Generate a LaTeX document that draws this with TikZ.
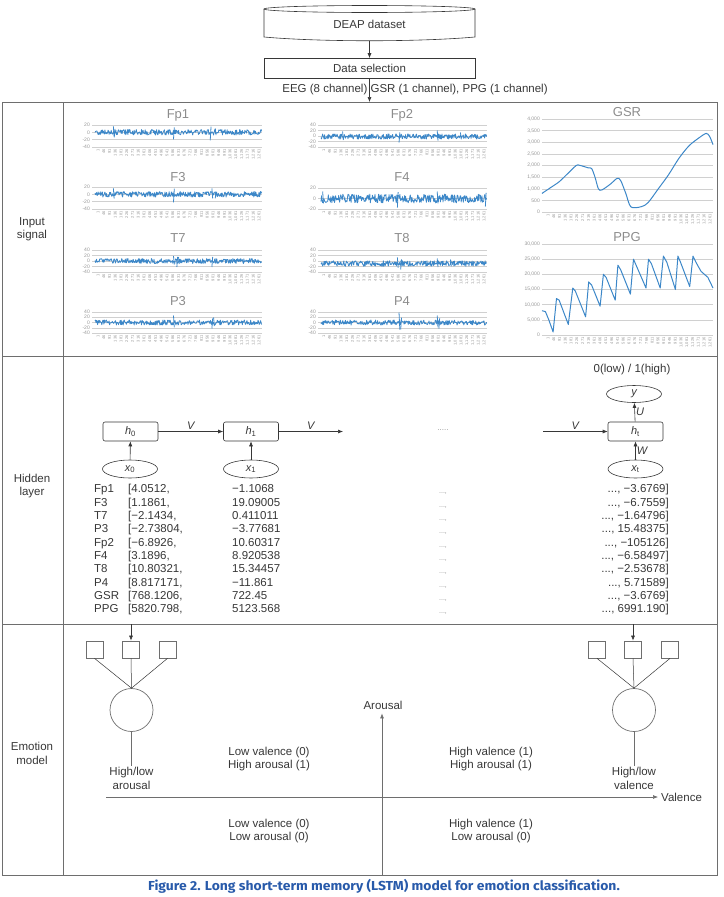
\documentclass[tikz,border=0pt]{standalone}
\usepackage{fontspec}
\setmainfont{Liberation Sans}
\newfontfamily\capfont{Fira Sans}
\usetikzlibrary{shapes.geometric,arrows.meta}
\definecolor{sig}{RGB}{60,135,200}
\definecolor{gridc}{RGB}{208,208,208}
\definecolor{tick}{RGB}{150,150,150}
\definecolor{ttl}{RGB}{140,140,140}
\definecolor{ink}{RGB}{55,55,55}
\definecolor{framec}{RGB}{110,110,110}
\definecolor{capblue}{RGB}{40,90,170}
\tikzset{
  frame/.style={draw=framec, line width=0.8pt},
  arr/.style={-{Latex[length=5pt,width=4pt]}, draw=ink, line width=0.6pt},
  plainline/.style={draw=ink, line width=0.6pt},
  txt/.style={text=ink, inner sep=1pt, font=\fontsize{11.5}{13.3}\selectfont},
  lab/.style={txt, align=center},
  hbox/.style={draw=ink, line width=0.6pt, rounded corners=2pt, minimum width=55pt, minimum height=19pt, inner sep=0pt, text=ink, font=\fontsize{11}{11}\selectfont},
  xell/.style={draw=ink, line width=0.6pt, ellipse, minimum width=55pt, minimum height=18pt, inner sep=0pt, text=ink, font=\fontsize{11}{11}\selectfont},
  wlab/.style={text=ink, inner sep=1pt, font=\fontsize{11}{11}\selectfont\itshape},
  tab/.style={txt, text height=8.3pt, text depth=2.4pt},
  sqbox/.style={draw=framec, line width=0.7pt, minimum size=17pt, inner sep=0pt},
  neuron/.style={draw=framec, line width=0.7pt, circle, minimum size=43pt, inner sep=0pt},
  sigl/.style={draw=sig, line width=0.8pt, line join=round},
  gridl/.style={draw=gridc, line width=0.5pt},
  ylab/.style={anchor=east, inner sep=0.5pt, text=tick, font=\fontsize{5}{5}\selectfont},
  xlab/.style={rotate=90, anchor=east, inner sep=0.3pt, text=tick, font=\fontsize{4}{4}\selectfont},
  ctitle/.style={text=ttl, inner sep=0pt, font=\fontsize{13}{13}\selectfont},
}
\newcommand{\gridset}[4]{% prefix, xl, xr, list y/label
  \foreach \yy/\lab [count=\k] in {#4}{%
    \draw[gridl] (#2,\yy) -- (#3,\yy);
    \node[ylab] (#1-y\k) at (#2-1.5,\yy) {\lab};}}
\newcommand{\xlabset}[4]{% prefix, xl, xr, y
  \foreach \lab [count=\i from 0] in {1,46,91,136,181,226,271,316,361,406,451,496,541,586,631,676,721,766,811,856,901,946,991,{1,036},{1,081},{1,126},{1,171},{1,216},{1,261}}{%
    \node[xlab] (#1-x\i) at ({#2+3+(\i+0.5)*(#3-#2-3)/29},#4) {\lab};}}
\newcommand{\noiseline}[6]{% xl, xr, yc, amp, seed, spikes t/d
  \pgfmathsetseed{#5}
  \draw[sigl] plot[samples=320, domain=0:1, variable=\u] ({#1+3+\u*(#2-#1-3)}, {#3+#4*rand});
  \foreach \s/\d in {#6}{%
    \draw[sigl] ({#1+3+\s*(#2-#1-3)},{#3-\d}) -- ({#1+3.8+\s*(#2-#1-3)},{#3+0.7*\d});}}
\begin{document}
\begin{tikzpicture}[x=1pt,y=-1pt]
\useasboundingbox (0,0) rectangle (723,897);

% ---------- top flow ----------
\node[txt, minimum width=211pt, minimum height=33pt] (deap) at (369.5,24) {DEAP dataset};
\draw[plainline] (369.5,9) ellipse [x radius=105.5, y radius=3.5];
\draw[plainline] (264,9) -- (264,37) .. controls (320,42) and (419,42) .. (475,37) -- (475,9);
\node[txt, draw=ink, line width=0.6pt, minimum width=211pt, minimum height=20pt] (sel) at (369.5,68.5) {Data selection};
\draw[arr] (deap.south) -- (sel.north);
\coordinate (tabtop) at (369.5,102);
\draw[arr] (sel.south) -- (tabtop);
\node[txt] (chan) at (415,90) {EEG (8 channel) GSR (1 channel), PPG (1 channel)};

% ---------- table frame ----------
\draw[frame] (2,102) rectangle (717,875);
\draw[frame] (63,102) -- (63,875);
\draw[frame] (2,356) -- (717,356);
\draw[frame] (2,624) -- (717,624);
\node[lab] (lin) at (32,229) {Input\\signal};
\node[lab] (lhid) at (32,486) {Hidden\\layer};
\node[lab] (lemo) at (32,753.5) {Emotion\\model};

% ---------- EEG charts ----------
\node[ctitle] (tFp1) at (178,115) {Fp1};
\gridset{fp1}{92}{262}{125/20,132.3/0,139.7/-20,147/-40}
\noiseline{92}{262}{132.3}{2.8}{11}{0.11/6,0.115/-5,0.47/-7,0.69/-8,0.72/4}
\xlabset{fp1}{92}{262}{149}

\node[ctitle] (tFp2) at (402,115) {Fp2};
\gridset{fp2}{318}{487}{125/40,130.5/20,136/0,141.5/-20,147/-40}
\noiseline{318}{487}{136.5}{2.6}{12}{0.13/5,0.47/-6,0.7/6,0.84/4}
\xlabset{fp2}{318}{487}{149}

\node[ctitle] (tF3) at (178,177) {F3};
\gridset{f3}{92}{262}{187/20,194.3/0,201.7/-20,209/-40}
\noiseline{92}{262}{194.3}{2.8}{13}{0.11/6,0.47/-8,0.7/6,0.72/-4}
\xlabset{f3}{92}{262}{211}

\node[ctitle] (tF4) at (402,177) {F4};
\gridset{f4}{318}{487}{188/20,198.5/0,209/-20}
\noiseline{318}{487}{198.5}{4.4}{14}{0.01/7,0.46/-9,0.7/7,0.99/-8}
\xlabset{f4}{318}{487}{211}

\node[ctitle] (tT7) at (178,238) {T7};
\gridset{t7}{92}{262}{250/40,255.5/20,261/0,266.5/-20,272/-40}
\noiseline{92}{262}{261}{2.5}{15}{0.47/5,0.49/-6,0.5/4,0.7/-6}
\xlabset{t7}{92}{262}{274}

\node[ctitle] (tT8) at (402,238) {T8};
\gridset{t8}{318}{487}{250/40,255.5/20,261/0,266.5/-20,272/-40}
\noiseline{318}{487}{263.5}{2.8}{16}{0.46/6,0.48/-6,0.7/5,0.78/4}
\xlabset{t8}{318}{487}{274}

\node[ctitle] (tP3) at (178,301) {P3};
\gridset{p3}{92}{262}{312/40,317.25/20,322.5/0,327.75/-20,333/-40}
\noiseline{92}{262}{322.5}{2.5}{17}{0.47/7,0.7/-6,0.71/5}
\xlabset{p3}{92}{262}{335}

\node[ctitle] (tP4) at (402,301) {P4};
\gridset{p4}{318}{487}{312/40,317.25/20,322.5/0,327.75/-20,333/-40}
\noiseline{318}{487}{322.5}{2.5}{18}{0.47/10,0.48/-7,0.7/7,0.71/-6}
\xlabset{p4}{318}{487}{335}

% ---------- GSR ----------
\node[ctitle] (tGSR) at (627,112) {GSR};
\gridset{gsr}{542}{713}{119/{4,000},130.6/{3,500},142.3/{3,000},153.9/{2,500},165.5/{2,000},177.1/{1,500},188.8/{1,000},200.4/500,212/0}
\draw[sigl, line width=1pt] plot[smooth, tension=0.5] coordinates {(542,193.4) (550.6,187.6) (559.1,181.8) (567.7,173.6) (576.2,165.5) (579.6,165.3) (588.2,167.8) (591.6,168.5) (595,177.1) (598.4,188.8) (601.9,189.9) (610.4,184.1) (617.2,178.3) (620.7,180.6) (625.8,193.4) (630.9,206.9) (641.2,206.7) (648,202.7) (658.3,188.8) (668.5,174.8) (678.8,158.5) (689.1,145.7) (699.3,137.6) (706.2,133.4) (709.6,136.4) (713,144.6)};
\xlabset{gsr}{542}{713}{214}

% ---------- PPG ----------
\node[ctitle] (tPPG) at (627,237) {PPG};
\gridset{ppg}{542}{713}{244/{30,000},259.2/{25,000},274.3/{20,000},289.5/{15,000},304.7/{10,000},319.8/{5,000},335/0}
\draw[sigl, line width=1pt] (542,310.7) -- (545.4,311.6) -- (548.8,319.8) -- (553.1,332) -- (556.5,298.6) -- (559.1,300.1) -- (568.3,324.4) -- (572.8,288) -- (575.3,291) -- (585.6,316.8) -- (588.7,281.9) -- (591.6,285) -- (600.1,306.2) -- (603.4,274.3) -- (606.1,277.4) -- (615.2,300.1) -- (617.9,265.2) -- (620.7,269.8) -- (630.4,294.1) -- (633.5,259.2) -- (636.1,265.2) -- (646,288) -- (648.5,259.2) -- (651.4,263.7) -- (660.2,288) -- (663.4,256.1) -- (666.8,262.2) -- (675.4,289.5) -- (677.9,256.1) -- (680.5,262.2) -- (689.7,286.5) -- (693,256.1) -- (695.9,262.2) -- (701,271.3) -- (707.9,277.4) -- (713,288);
\xlabset{ppg}{542}{713}{337}

% ---------- hidden layer ----------
\node[txt] (outlab) at (632,370) {0(low) / 1(high)};
\node[xell, minimum height=17pt] (yy) at (634,394) {\itshape y};
\node[hbox] (h0) at (130.5,431.5) {{\itshape h}\textsubscript{0}};
\node[hbox] (h1) at (251,431.5) {{\itshape h}\textsubscript{1}};
\node[hbox] (ht) at (635.5,431.5) {{\itshape h}\textsubscript{t}};
\node[xell] (x0) at (130,469) {{\itshape x}\textsubscript{0}};
\node[xell] (x1) at (251,469) {{\itshape x}\textsubscript{1}};
\node[xell] (xt) at (635.5,469) {{\itshape x}\textsubscript{t}};
\coordinate (vend) at (343,431.5);
\coordinate (vstart) at (543,431.5);
\node[text=tick, inner sep=0pt, font=\fontsize{8}{8}\selectfont] (dots) at (443,430) {.....};
\draw[arr] (x0) -- (h0);
\draw[arr] (x1) -- (h1);
\draw[arr] (xt) -- node[wlab, right] {W} (ht);
\draw[arr] (ht) -- node[wlab, right] {U} (yy);
\draw[arr] (h0) -- node[wlab, above=1pt] {V} (h1);
\draw[arr] (h1) -- node[wlab, above=1pt] {V} (vend);
\draw[arr] (vstart) -- node[wlab, above=1pt] {V} (ht);

% ---------- table of values ----------
\foreach \n/\a/\b/\c [count=\i from 0] in {
  Fp1/{[4.0512,}/{−1.1068}/{..., −3.6769]},
  F3/{[1.1861,}/{19.09005}/{..., −6.7559]},
  T7/{[−2.1434,}/{0.411011}/{..., −1.64796]},
  P3/{[−2.73804,}/{−3.77681}/{..., 15.48375]},
  Fp2/{[−6.8926,}/{10.60317}/{..., −105126]},
  F4/{[3.1896,}/{8.920538}/{..., −6.58497]},
  T8/{[10.80321,}/{15.34457}/{..., −2.53678]},
  P4/{[8.817171,}/{−11.861}/{..., 5.71589]},
  GSR/{[768.1206,}/{722.45}/{..., −3.6769]},
  PPG/{[5820.798,}/{5123.568}/{..., 6991.190]}}{%
  \pgfmathsetmacro{\ry}{490+13.33*\i}
  \node[tab, anchor=west] (nm\i) at (93,\ry) {\n};
  \node[tab, anchor=west] (va\i) at (127,\ry) {\a};
  \node[tab, anchor=west] (vb\i) at (231,\ry) {\b};
  \node[tab, text=tick, font=\fontsize{7}{7}\selectfont] (vd\i) at (443,\ry+1) {...,};
  \node[tab, anchor=east] (vc\i) at (670,\ry) {\c};
}
\coordinate (dl) at (131,624);
\coordinate (dr) at (633,624);

% ---------- emotion model ----------
\node[sqbox] (la) at (94.5,649.5) {};
\node[sqbox] (lb) at (131,649.5) {};
\node[sqbox] (lc) at (167.5,649.5) {};
\node[neuron] (ln) at (131.5,710) {};
\node[sqbox] (ra) at (597,649.5) {};
\node[sqbox] (rb) at (633,649.5) {};
\node[sqbox] (rc) at (670,649.5) {};
\node[neuron] (rn) at (634,710) {};
\draw[arr] (dl) -- (lb.north);
\draw[arr] (dr) -- (rb.north);
\foreach \s in {la,lb,lc}{\draw[draw=ink, line width=0.5pt] (\s.south) -- (ln.north);}
\foreach \s in {ra,rb,rc}{\draw[draw=ink, line width=0.5pt] (\s.south) -- (rn.north);}
\node[lab] (lout) at (131.5,778.5) {High/low\\arousal};
\node[lab] (rout) at (634,778.5) {High/low\\valence};
\draw[plainline, draw=framec] (ln.south) -- (lout.north);
\draw[plainline, draw=framec] (rn.south) -- (rout.north);

\coordinate (vs) at (106,797);
\node[txt, anchor=west, inner sep=3pt] (val) at (658,797) {Valence};
\draw[arr, draw=framec] (vs) -- (val.west);
\coordinate (as) at (382,875);
\node[txt] (aro) at (383,705) {Arousal};
\draw[arr, draw=framec, shorten >=3pt] (as) -- (aro.south -| as);

\node[lab] (q1) at (269,759) {Low valence (0)\\High arousal (1)};
\node[lab] (q2) at (491,759) {High valence (1)\\High arousal (1)};
\node[lab] (q3) at (269,831) {Low valence (0)\\Low arousal (0)};
\node[lab] (q4) at (491,831) {High valence (1)\\Low arousal (0)};

% ---------- caption ----------
\node[text=capblue, inner sep=0pt, font=\capfont\bfseries\fontsize{13}{13}\selectfont] (cap) at (384,886)
  {\scalebox{1.07}[1]{Figure 2. Long short-term memory (LSTM) model for emotion classification.}};
\end{tikzpicture}
\end{document}
